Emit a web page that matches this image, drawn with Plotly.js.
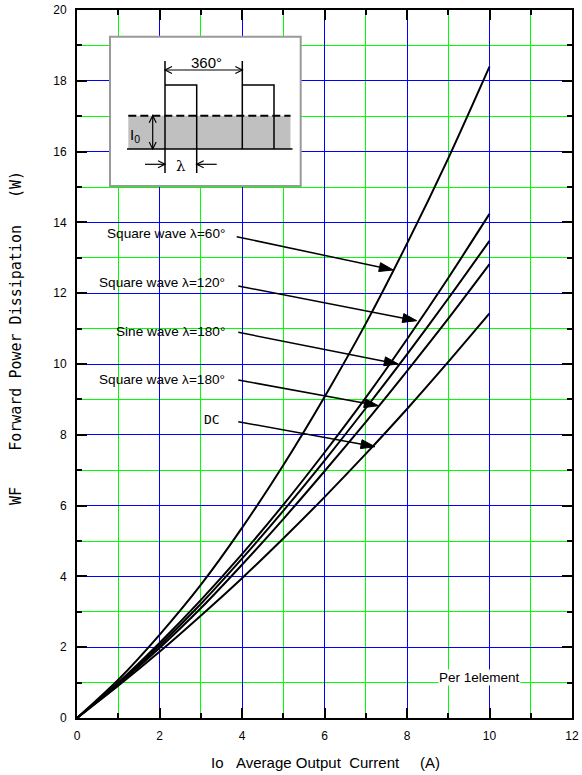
<!DOCTYPE html>
<html>
<head>
<meta charset="utf-8">
<script src="https://cdn.plot.ly/plotly-3.0.1.min.js"></script>
<style>html,body{margin:0;padding:0;background:#fff;}#chart{width:582px;height:775px;}</style>
</head>
<body>
<div id="chart"></div>
<script>
// ---- data ----
const current = [0, 1, 2, 3, 4, 5, 6, 7, 8, 9, 10];
const square60 = [0, 1.08, 2.35, 3.76, 5.37, 7.14, 9.07, 11.14, 13.40, 15.81, 18.40];
const square120 = [0, 1.00, 2.12, 3.33, 4.63, 6.02, 7.50, 9.05, 10.70, 12.43, 14.24];
const sine180 = [0, 0.98, 2.05, 3.22, 4.50, 5.85, 7.27, 8.75, 10.27, 11.85, 13.48];
const square180 = [0, 0.95, 1.98, 3.10, 4.33, 5.62, 6.97, 8.36, 9.80, 11.28, 12.82];
const dcValues = [0, 0.91, 1.87, 2.89, 3.95, 5.07, 6.24, 7.46, 8.73, 10.06, 11.43];
const seriesNames = ["Square wave λ=60°", "Square wave λ=120°", "Sine wave λ=180°", "Square wave λ=180°", "DC"];
const xRange = [0, 12];
const yRange = [0, 20];

// ---- layout helpers (pixel -> paper) ----
const L = 77, R = 572, T = 10, B = 718;
const px = X => (X - L) / (R - L);
const py = Y => (B - Y) / (B - T);
const shapes = [];
const annotations = [];
function seg(x1, y1, x2, y2, w, dash) {
  shapes.push({type: 'line', xref: 'paper', yref: 'paper', x0: px(x1), y0: py(y1), x1: px(x2), y1: py(y2),
    line: {color: '#000', width: w, dash: dash || 'solid'}});
}
function pathPx(pts, close, fill, w) {
  let d = pts.map((p, i) => (i ? 'L' : 'M') + px(p[0]).toFixed(5) + ',' + py(p[1]).toFixed(5)).join(' ');
  if (close) d += ' Z';
  shapes.push({type: 'path', xref: 'paper', yref: 'paper', path: d,
    fillcolor: fill || 'rgba(0,0,0,0)', line: {color: '#000', width: w}});
}
function head(x1, y1, x2, y2, h, hw, filled, w) {
  const len = Math.hypot(x2 - x1, y2 - y1);
  const dx = (x2 - x1) / len, dy = (y2 - y1) / len;
  const nx = -dy, ny = dx;
  const p1 = [x2 - h * dx + hw * nx, y2 - h * dy + hw * ny];
  const p2 = [x2 - h * dx - hw * nx, y2 - h * dy - hw * ny];
  if (filled) pathPx([p1, [x2, y2], p2], true, '#000', 1);
  else pathPx([p1, [x2, y2], p2], false, null, w);
}
function bigArrow(x1, y1, x2, y2) {
  const len = Math.hypot(x2 - x1, y2 - y1);
  const h = 14;
  const ex = x2 - (x2 - x1) / len * (h - 2), ey = y2 - (y2 - y1) / len * (h - 2);
  seg(x1, y1, ex, ey, 1.5);
  head(x1, y1, x2, y2, h, 4.5, true);
}
function text(t, X, Y, opts) {
  annotations.push(Object.assign({text: t, xref: 'paper', yref: 'paper', x: px(X), y: py(Y), showarrow: false,
    xanchor: 'center', yanchor: 'middle', font: {family: 'Arial, Liberation Sans, sans-serif', size: 13, color: '#000'}}, opts || {}));
}

// ---- inset waveform diagram ----
shapes.push({type: 'rect', xref: 'paper', yref: 'paper', x0: px(110), y0: py(186), x1: px(300.7), y1: py(36.7),
  line: {color: '#999', width: 2}, fillcolor: '#fff'});
shapes.push({type: 'rect', xref: 'paper', yref: 'paper', x0: px(128.3), y0: py(149), x1: px(290.5), y1: py(115.7),
  line: {width: 0}, fillcolor: '#c0c0c0'});
seg(128.3, 115.7, 290.5, 115.7, 2, '8px,4px');
seg(127, 149, 292.5, 149, 1.5);
pathPx([[165, 61], [165, 173]], false, null, 1.5);
pathPx([[165, 85], [196.7, 85], [196.7, 173]], false, null, 1.5);
pathPx([[242.3, 61], [242.3, 149]], false, null, 1.5);
pathPx([[242.3, 85], [274, 85], [274, 149]], false, null, 1.5);
// 360 deg arrow
seg(165, 70, 242.3, 70, 1.2);
head(242.3, 70, 165, 70, 7, 3.5, false, 1.2);
head(165, 70, 242.3, 70, 7, 3.5, false, 1.2);
// I0 arrow
seg(152.7, 115.7, 152.7, 149, 1.2);
head(152.7, 149, 152.7, 115.7, 7, 3.5, false, 1.2);
head(152.7, 115.7, 152.7, 149, 7, 3.5, false, 1.2);
// lambda arrows
seg(145, 164.3, 165, 164.3, 1.2);
head(145, 164.3, 165, 164.3, 7, 3.5, false, 1.2);
seg(216.7, 164.3, 196.7, 164.3, 1.2);
head(216.7, 164.3, 196.7, 164.3, 7, 3.5, false, 1.2);
text('360°', 206.5, 62.5, {font: {family: 'Arial, Liberation Sans, sans-serif', size: 15, color: '#000'}});
text('I<sub>0</sub>', 127.5, 135, {xanchor: 'left', font: {family: 'Arial, Liberation Sans, sans-serif', size: 15, color: '#000'}});
text('λ', 180.5, 166, {font: {family: 'DejaVu Serif, serif', size: 15, color: '#000'}});

// ---- curve labels and arrows ----
const labelPos = [[226.7, 233.3], [227.3, 282.7], [226.7, 331.7], [227.3, 379.3], [221.7, 420]];
const arrowPos = [
  [236.7, 236.7, 393.3, 270],
  [238.3, 286, 416.7, 320.7],
  [238.3, 332.3, 398.3, 364],
  [238.3, 380, 378.3, 405.7],
  [238.3, 421.7, 375, 446.7]
];
seriesNames.forEach((n, i) => {
  const isDC = n === 'DC';
  text(n, labelPos[i][0], labelPos[i][1], {xanchor: 'right',
    font: isDC ? {family: 'DejaVu Sans Mono, monospace', size: 13, color: '#000'}
               : {family: 'Arial, Liberation Sans, sans-serif', size: 13.6, color: '#000'}});
  const a = arrowPos[i];
  bigArrow(a[0], a[1], a[2], a[3]);
});

text('Per 1element', 479.7, 677.3, {bgcolor: '#fff', borderpad: 0, font: {family: 'Arial, Liberation Sans, sans-serif', size: 13.5, color: '#000'}});
text('Io\u00A0\u00A0\u00A0Average Output\u00A0\u00A0Current\u00A0\u00A0\u00A0\u00A0\u00A0(A)', 325.8, 762.7,
  {font: {family: 'Arial, Liberation Sans, sans-serif', size: 15, color: '#000'}});
text('WF\u00A0\u00A0\u00A0\u00A0Forward Power Dissipation\u00A0\u00A0\u00A0(W)', 16, 338,
  {textangle: -90, font: {family: 'DejaVu Sans Mono, monospace', size: 15, color: '#000'}});

// ---- traces ----
const allSeries = [square60, square120, sine180, square180, dcValues];
const traces = allSeries.map((ys, i) => ({
  x: current, y: ys, type: 'scatter', mode: 'lines', name: seriesNames[i],
  line: {color: '#000', width: 2, shape: 'spline', smoothing: 0.8}, hoverinfo: 'skip'
}));

function axis(range) {
  return {
    range: range, tickmode: 'linear', tick0: 0, dtick: 2,
    ticks: 'inside', ticklen: 10, tickwidth: 2, tickcolor: '#000',
    showline: true, linecolor: '#000', linewidth: 2, mirror: 'ticks',
    showgrid: true, gridcolor: '#0000ff', gridwidth: 1, zeroline: false,
    minor: {tick0: 0, dtick: 1, ticks: 'inside', ticklen: 5, tickwidth: 2, tickcolor: '#000',
      showgrid: true, gridcolor: '#00ff00', gridwidth: 1},
    tickfont: {family: 'Arial, Liberation Sans, sans-serif', size: 12, color: '#000'},
    ticklabelstandoff: 6, fixedrange: true
  };
}

const layout = {
  width: 582, height: 775,
  margin: {l: L, r: 582 - R, t: T, b: 775 - B, pad: 0},
  paper_bgcolor: '#fff', plot_bgcolor: '#fff',
  showlegend: false,
  xaxis: axis(xRange),
  yaxis: axis(yRange),
  shapes: shapes,
  annotations: annotations
};

Plotly.newPlot('chart', traces, layout, {staticPlot: true, displayModeBar: false});
</script>
</body>
</html>
